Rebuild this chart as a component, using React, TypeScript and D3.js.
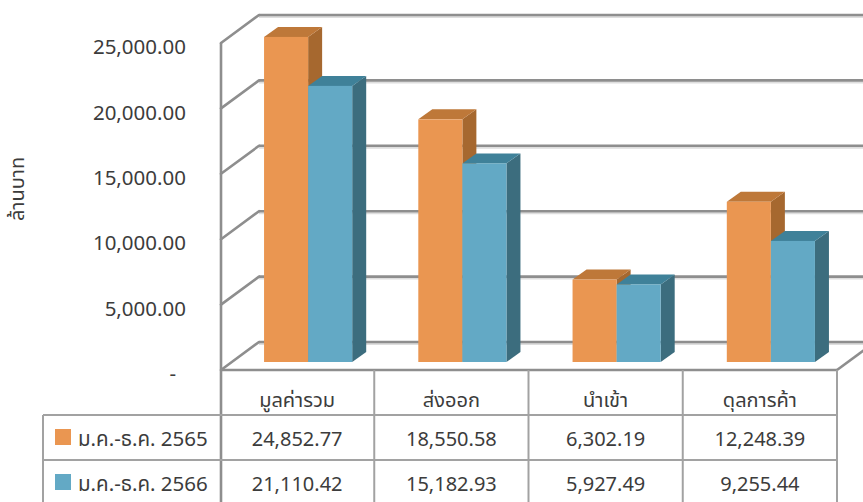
import * as d3 from "d3";
import React from "react";

const categories = ["มูลค่ารวม", "ส่งออก", "นำเข้า", "ดุลการค้า"];
const seriesNames = ["ม.ค.-ธ.ค. 2565", "ม.ค.-ธ.ค. 2566"];
const values2565 = [24852.77, 18550.58, 6302.19, 12248.39];
const values2566 = [21110.42, 15182.93, 5927.49, 9255.44];
const yTicks = [0, 5000, 10000, 15000, 20000, 25000];
const yTitle = "ล้านบาท";

const W = 863;
const H = 502;
const FONT = "Tahoma, 'Leelawadee UI', 'Noto Sans Thai', 'Noto Sans', sans-serif";
const TEXT = "#3c3c3c";

// ลักษณะสีของแต่ละชุด (หน้า, บน, ข้าง)
const palette = [
  { front: "#EA9651", top: "#BE7839", side: "#A6682F" },
  { front: "#63A9C5", top: "#3F8199", side: "#3C6D7E" },
];

const fmt = (v: number) =>
  v === 0 ? "-" : d3.format(",.2f")(v);

export default function App() {
  const ref = React.useRef<SVGSVGElement>(null);

  React.useEffect(() => {
    if (!ref.current) return;
    const svg = d3.select(ref.current);
    svg.selectAll("*").remove();

    // plot geometry
    const left = 221;
    const right = 837;
    const floorY = 370;
    const wallDx = 38;
    const wallDy = -28;
    const barDx = 11;
    const barDy = -8;
    const depthDx = 14;
    const depthDy = -10;

    const y = d3.scaleLinear().domain([0, 25000]).range([floorY, 43]);
    const x = d3.scaleBand().domain(categories).range([left - 1, right]);
    const xs = d3
      .scaleBand()
      .domain(seriesNames)
      .range([0, x.bandwidth()])
      .paddingOuter(0.75);

    const grid = "#8e8e8e";
    const g = svg.append("g");

    // back wall gridlines
    yTicks.forEach((t) => {
      const yy = y(t) + wallDy;
      g.append("line")
        .attr("x1", left + wallDx)
        .attr("x2", W + 20)
        .attr("y1", yy + 2)
        .attr("y2", yy + 2)
        .attr("stroke", "#dedede")
        .attr("stroke-width", 2);
      g.append("line")
        .attr("x1", left + wallDx)
        .attr("x2", W + 20)
        .attr("y1", yy)
        .attr("y2", yy)
        .attr("stroke", grid)
        .attr("stroke-width", 2.6);
      // left wall diagonals
      g.append("line")
        .attr("x1", left)
        .attr("y1", y(t))
        .attr("x2", left + wallDx)
        .attr("y2", yy)
        .attr("stroke", grid)
        .attr("stroke-width", 2.6)
        .attr("stroke-linecap", "round");
    });

    // floor edges
    g.append("line")
      .attr("x1", right)
      .attr("y1", floorY)
      .attr("x2", right + wallDx)
      .attr("y2", floorY + wallDy)
      .attr("stroke", grid)
      .attr("stroke-width", 2.6);

    // bars
    const seriesValues = [values2565, values2566];
    categories.forEach((c, ci) => {
      seriesNames.forEach((s, si) => {
        const v = seriesValues[si][ci];
        const col = palette[si];
        const x0 = (x(c) || 0) + (xs(s) || 0) + barDx;
        const x1 = x0 + xs.bandwidth();
        const yb = y(0) + barDy;
        const yt = y(v) + barDy;
        // side
        g.append("path")
          .attr(
            "d",
            `M${x1},${yt}L${x1 + depthDx},${yt + depthDy}L${x1 + depthDx},${yb + depthDy}L${x1},${yb}Z`
          )
          .attr("fill", col.side);
        // top
        g.append("path")
          .attr(
            "d",
            `M${x0},${yt}L${x0 + depthDx},${yt + depthDy}L${x1 + depthDx},${yt + depthDy}L${x1},${yt}Z`
          )
          .attr("fill", col.top);
        // front
        g.append("rect")
          .attr("x", x0)
          .attr("y", yt)
          .attr("width", xs.bandwidth())
          .attr("height", yb - yt)
          .attr("fill", col.front);
      });
    });

    // front axis + floor front edge
    g.append("line")
      .attr("x1", left)
      .attr("x2", left)
      .attr("y1", y(25000))
      .attr("y2", H + 10)
      .attr("stroke", grid)
      .attr("stroke-width", 2.6);
    g.append("line")
      .attr("x1", left)
      .attr("x2", right)
      .attr("y1", floorY)
      .attr("y2", floorY)
      .attr("stroke", grid)
      .attr("stroke-width", 2.6);

    // y tick labels
    yTicks.forEach((t) => {
      g.append("text")
        .attr("x", t === 0 ? 176 : 186)
        .attr("y", y(t) + 4)
        .attr("dy", "0.35em")
        .attr("text-anchor", "end")
        .attr("font-family", FONT)
        .attr("font-size", 20.5)
        .attr("fill", TEXT)
        .text(fmt(t));
    });

    // y title
    g.append("text")
      .attr("transform", `translate(24,189) rotate(-90)`)
      .attr("text-anchor", "middle")
      .attr("font-family", FONT)
      .attr("font-size", 20)
      .attr("fill", TEXT)
      .text(yTitle);

    // data table
    const tableLine = "#a2a2a2";
    const rowTops = [floorY, 415, 460, 505];
    const tableLeft = 43;
    [415, 460].forEach((ry) => {
      g.append("line")
        .attr("x1", tableLeft)
        .attr("x2", right)
        .attr("y1", ry)
        .attr("y2", ry)
        .attr("stroke", tableLine)
        .attr("stroke-width", 2);
    });
    g.append("line")
      .attr("x1", tableLeft)
      .attr("x2", tableLeft)
      .attr("y1", 415)
      .attr("y2", H + 10)
      .attr("stroke", tableLine)
      .attr("stroke-width", 2);
    categories.forEach((c) => {
      const xr = (x(c) || 0) + x.bandwidth();
      g.append("line")
        .attr("x1", xr)
        .attr("x2", xr)
        .attr("y1", floorY)
        .attr("y2", H + 10)
        .attr("stroke", tableLine)
        .attr("stroke-width", 2);
      g.append("text")
        .attr("x", (x(c) || 0) + x.bandwidth() / 2)
        .attr("y", 407)
        .attr("text-anchor", "middle")
        .attr("font-family", FONT)
        .attr("font-size", 20)
        .attr("fill", TEXT)
        .text(c);
    });

    seriesNames.forEach((s, si) => {
      const top = rowTops[si + 1];
      const base = top + 31;
      g.append("rect")
        .attr("x", 55)
        .attr("y", top + 14)
        .attr("width", 16)
        .attr("height", 16)
        .attr("fill", palette[si].front);
      g.append("text")
        .attr("x", 78)
        .attr("y", base)
        .attr("font-family", FONT)
        .attr("font-size", 20.5)
        .attr("fill", TEXT)
        .text(s);
      categories.forEach((c, ci) => {
        g.append("text")
          .attr("x", (x(c) || 0) + x.bandwidth() / 2)
          .attr("y", base)
          .attr("text-anchor", "middle")
          .attr("font-family", FONT)
          .attr("font-size", 20)
          .attr("fill", TEXT)
          .text(fmt(seriesValues[si][ci]));
      });
    });
  }, []);

  return (
    <svg
      ref={ref}
      width={W}
      height={H}
      style={{ position: "absolute", left: 0, top: 0, background: "#fff" }}
    />
  );
}
